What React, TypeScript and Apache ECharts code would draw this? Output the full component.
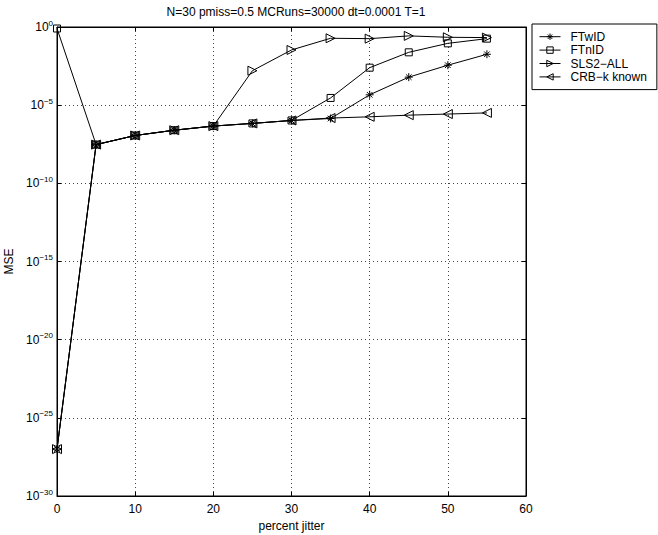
import React, { useEffect, useRef } from "react";
import * as echarts from "echarts";

const jitter = [0, 5, 10, 15, 20, 25, 30, 35, 40, 45, 50, 55];
const ftwid = [1e-27, 3e-8, 1.15e-7, 2.5e-7, 4.6e-7, 6.8e-7, 1.05e-6, 1.4e-6, 4.6e-5, 6.2e-4, 3.6e-3, 1.8e-2];
const ftnid = [0.8, 3e-8, 1.15e-7, 2.5e-7, 4.6e-7, 6.8e-7, 1.05e-6, 2.9e-5, 2.5e-3, 2.4e-2, 9e-2, 1.8e-1];
const sls2 = [1e-27, 3e-8, 1.15e-7, 2.5e-7, 4.6e-7, 1.6e-3, 3.4e-2, 1.9e-1, 1.8e-1, 2.7e-1, 2.2e-1, 2.1e-1];
const crb = [1e-27, 3e-8, 1.15e-7, 2.5e-7, 4.6e-7, 6.8e-7, 1.05e-6, 1.5e-6, 1.8e-6, 2.3e-6, 2.7e-6, 3.2e-6];
const seriesNames = ["FTwID", "FTnID", "SLS2−ALL", "CRB−k known"];
const titleText = "N=30 pmiss=0.5 MCRuns=30000 dt=0.0001 T=1";
// y axis is decades (log10 of MSE): 10^-30 .. 10^0, a tick every 5 decades
const yDecadeMin = -30;
const yDecadeMax = 0;
const yDecadeStep = 5;

const FONT = "Liberation Sans, Arial, Helvetica, sans-serif";

const SYM_AST = "path://M5,0L5,10M0,5L10,5M1.5,1.5L8.5,8.5M8.5,1.5L1.5,8.5";
const SYM_SQ = "path://M0,0L10,0L10,10L0,10Z";
const SYM_TR = "path://M0,0L10,5L0,10Z";
const SYM_TL = "path://M10,0L0,5L10,10Z";

const hollow = { color: "rgba(255,255,255,0)", borderColor: "#000", borderWidth: 1 };

export default function App() {
  const ref = useRef<HTMLDivElement>(null);
  useEffect(() => {
    document.body.style.margin = "0";
    const chart = echarts.init(ref.current!, null, { renderer: "svg" });
    const mk = (name: string, data: number[], symbol: string, size: number) => ({
      name,
      type: "line",
      data: jitter.map((x, i) => [x, Math.log10(data[i])]),
      symbol,
      symbolSize: size,
      showSymbol: true,
      color: "#000",
      lineStyle: { color: "#000", width: 1 },
      itemStyle: hollow,
      emphasis: { disabled: true },
    });
    const dotted = { show: true, lineStyle: { color: "#444", width: 1, type: [1, 3] } };
    const yBase = {
      type: "value",
      min: yDecadeMin,
      max: yDecadeMax,
      interval: yDecadeStep,
      axisLine: { show: true, onZero: false, lineStyle: { color: "#000" } },
      axisTick: { show: true, inside: true, length: 4, lineStyle: { color: "#000" } },
    };
    chart.setOption({
      animation: false,
      backgroundColor: "#fff",
      textStyle: { fontFamily: FONT },
      title: {
        text: titleText,
        left: 291,
        top: 1,
        textAlign: "center",
        textStyle: { fontFamily: FONT, fontSize: 12, fontWeight: "normal", color: "#000" },
      },
      grid: {
        left: 57,
        right: 132,
        top: 27,
        bottom: 39,
        containLabel: false,
        outerBoundsMode: "none",
        show: true,
        borderColor: "#000",
        borderWidth: 1,
        backgroundColor: "transparent",
      },
      legend: {
        orient: "vertical",
        left: 532,
        top: 24,
        borderColor: "#000",
        borderWidth: 1,
        padding: [6, 10, 6, 7],
        itemWidth: 21,
        itemHeight: 8,
        itemGap: 0,
        backgroundColor: "#fff",
        itemStyle: hollow,
        lineStyle: { color: "#000", width: 1 },
        data: seriesNames,
        textStyle: { fontFamily: FONT, fontSize: 12, color: "#000", lineHeight: 13.4, padding: [0, 0, 0, 5] },
      },
      xAxis: [
        {
          type: "value",
          min: 0,
          max: 60,
          interval: 10,
          name: "percent jitter",
          nameLocation: "middle",
          nameGap: 19,
          nameTextStyle: { fontFamily: FONT, fontSize: 12, color: "#000" },
          axisLine: { show: true, onZero: false, lineStyle: { color: "#000" } },
          axisTick: { show: true, inside: true, length: 4, lineStyle: { color: "#000" } },
          axisLabel: { fontFamily: FONT, fontSize: 12, color: "#000", margin: 7, showMinLabel: true, showMaxLabel: true },
          splitLine: dotted,
        },
        {
          type: "value",
          position: "top",
          min: 0,
          max: 60,
          interval: 10,
          axisLine: { show: true, onZero: false, lineStyle: { color: "#000" } },
          axisTick: { show: true, inside: true, length: 4, lineStyle: { color: "#000" } },
          axisLabel: { show: false },
          splitLine: { show: false },
        },
      ],
      yAxis: [
        {
          ...yBase,
          name: "MSE",
          nameLocation: "middle",
          nameGap: 37,
          nameTextStyle: { fontFamily: FONT, fontSize: 12, color: "#000" },
          axisLabel: {
            margin: 4,
            showMinLabel: true,
            showMaxLabel: true,
            formatter: (v: number) => {
              const e = Math.round(v);
              return `{b|10}{s|${e === 0 ? "0" : "−" + Math.abs(e)}}`;
            },
            rich: {
              b: { fontFamily: FONT, fontSize: 12, color: "#000", lineHeight: 16 },
              s: { fontFamily: FONT, fontSize: 8, color: "#000", lineHeight: 10, verticalAlign: "top" },
            },
          },
          splitLine: dotted,
        },
        {
          ...yBase,
          position: "right",
          axisLabel: { show: false },
          splitLine: { show: false },
        },
      ],
      series: [
        mk(seriesNames[0], ftwid, SYM_AST, 8),
        mk(seriesNames[1], ftnid, SYM_SQ, 7),
        mk(seriesNames[2], sls2, SYM_TR, 9),
        mk(seriesNames[3], crb, SYM_TL, 9),
      ],
    });
    return () => chart.dispose();
  }, []);
  return <div ref={ref} style={{ width: 658, height: 535, position: "absolute", left: 0, top: 0 }} />;
}
